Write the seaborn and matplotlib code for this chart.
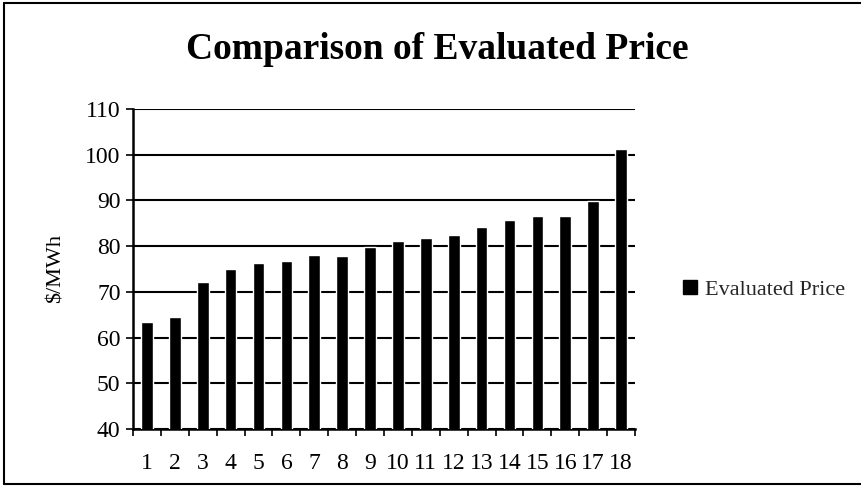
import matplotlib
matplotlib.use('Agg')
import matplotlib.pyplot as plt
import seaborn as sns
import pandas as pd
import numpy as np
from matplotlib.lines import Line2D

# Data
projects = [str(i) for i in range(1, 19)]
prices = [63.4, 64.6, 72.2, 75.1, 76.4, 76.7, 78.0, 77.9, 79.8,
          81.2, 81.7, 82.5, 84.2, 85.7, 86.6, 86.6, 89.9, 101.3]
series_name = 'Evaluated Price'

sns.set_theme(style="white")
plt.rcParams['font.family'] = ['Liberation Serif', 'DejaVu Serif']

df = pd.DataFrame({'Project': projects, 'Price': prices})

fig = plt.figure(figsize=(8.61, 4.87), dpi=100)
fig.patch.set_facecolor('white')
ax = fig.add_axes([0.1545, 0.1191, 0.583, 0.6571])

sns.barplot(data=df, x='Project', y='Price', color='black', width=0.42,
            saturation=1, ax=ax, zorder=3)

ax.set_ylim(40, 110)
ax.set_yticks(np.arange(40, 111, 10))
ax.set_xlim(-0.5, len(projects) - 0.5)
ax.yaxis.grid(True, color='black', linewidth=1.5, zorder=1)
ax.set_axisbelow(True)

for s in ['top', 'right']:
    ax.spines[s].set_visible(False)
for s in ['left', 'bottom']:
    ax.spines[s].set_color('black')
    ax.spines[s].set_linewidth(1.8)

# Excel-style category ticks between bars
ax.set_xticks(np.arange(-0.5, len(projects), 1), minor=True)
ax.tick_params(axis='x', which='major', length=0, pad=17, labelsize=17,
               colors='black')
ax.tick_params(axis='x', which='minor', length=5, width=1.2, color='black',
               direction='out', bottom=True)
ax.tick_params(axis='y', length=5, width=1.2, color='black', direction='out',
               left=True, labelsize=17, colors='black', pad=4)

ax.set_xlabel('')
ax.set_ylabel('$/MWh', fontsize=16, color='black', labelpad=14)

fig.text(0.508, 0.898, 'Comparison of Evaluated Price', ha='center',
         va='center', fontsize=27, fontweight='bold', color='black')

handle = Line2D([], [], marker='s', linestyle='none', color='black',
                markersize=10)
fig.legend([handle], [series_name], loc='center left',
           bbox_to_anchor=(0.765, 0.405), frameon=False, fontsize=16,
           handletextpad=0.2, handlelength=1)

# scanned page border
for xs, ys in [([0.005, 0.005], [0.006, 0.994]),
               ([0.005, 1.0], [0.994, 0.994]),
               ([0.005, 1.0], [0.006, 0.006])]:
    fig.add_artist(Line2D(xs, ys, color='black', linewidth=1.5,
                          transform=fig.transFigure))

fig.savefig('out.png', dpi=100, facecolor='white')
